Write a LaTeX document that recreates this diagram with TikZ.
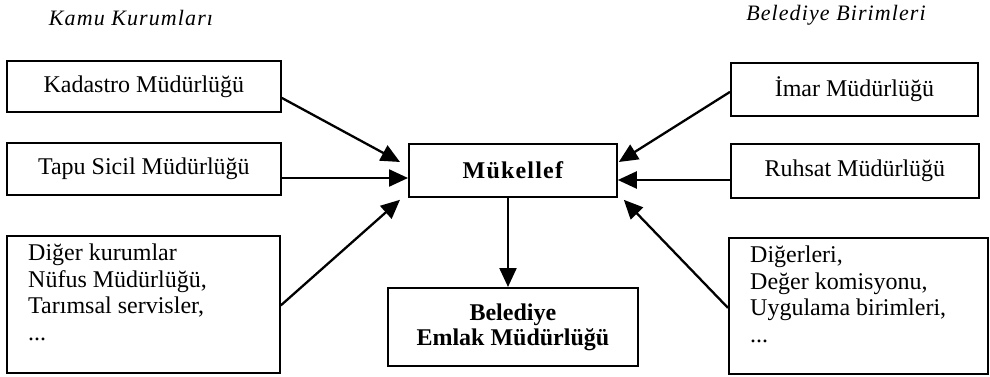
\documentclass[tikz,border=0pt]{standalone}
\usepackage{fontspec}
\setmainfont{Liberation Serif}
\usetikzlibrary{arrows.meta}
\begin{document}
\begin{tikzpicture}[x=1pt,y=-1pt,
  box/.style={draw,line width=1.8pt,inner sep=0pt,anchor=north west,
    font=\fontsize{24}{27}\selectfont},
  bbox/.style={box,font=\fontsize{24}{25}\selectfont\bfseries,align=center},
  txt/.style={inner sep=0pt,anchor=north west,align=left,
    font=\fontsize{24}{26.5}\selectfont},
  ttl/.style={inner sep=0pt,anchor=base,
    font=\fontsize{22}{24}\selectfont\itshape\addfontfeature{LetterSpace=5}},
  arr/.style={line width=2.3pt,-{Triangle[length=19pt,width=17pt]}}]
\useasboundingbox (0,0) rectangle (990,377);
% titles
\node[ttl] (t1) at (131,26) {Kamu Kurumları};
\node[ttl] (t2) at (836,21) {Belediye Birimleri};
% left boxes
\node[box,minimum width=274pt,minimum height=51pt] (kad) at (6,60) {Kadastro Müdürlüğü};
\node[box,minimum width=274pt,minimum height=52pt] (tapu) at (6,142) {Tapu Sicil Müdürlüğü};
\node[box,minimum width=273pt,minimum height=137pt] (diger) at (6,235) {};
\node[txt] (digert) at (28,244) {Diğer kurumlar\\Nüfus Müdürlüğü,\\Tarımsal servisler,\\...};
% right boxes
\node[box,minimum width=247pt,minimum height=53pt] (imar) at (730,62) {İmar Müdürlüğü};
\node[box,minimum width=248pt,minimum height=54pt] (ruhsat) at (730,143) {Ruhsat Müdürlüğü};
\node[box,minimum width=259pt,minimum height=136pt] (digerleri) at (728,237) {};
\node[txt] (digerlerit) at (750,246) {Diğerleri,\\Değer komisyonu,\\Uygulama birimleri,\\...};
% centre
\node[bbox,minimum width=208pt,minimum height=53pt] (muk) at (408,143) {\addfontfeature{LetterSpace=5}Mükellef};
\node[bbox,minimum width=250pt,minimum height=78pt] (emlak) at (387,287) {Belediye\\Emlak Müdürlüğü};
% arrows
\draw[arr] ([yshift=-11.5pt]kad.east) -- ([xshift=-8pt,yshift=-19pt]muk.north west);
\draw[arr] (tapu.east |- 0,178) -- (muk.west |- 0,178);
\draw[arr] ([yshift=-1pt]diger.east) -- ([xshift=-8pt,yshift=-2pt]muk.south west);
\draw[arr] ([yshift=-2.5pt]imar.west) -- ([xshift=1pt,yshift=-19pt]muk.north east);
\draw[arr] (ruhsat.west |- 0,180) -- (muk.east |- 0,180);
\draw[arr] ([yshift=-2pt]digerleri.west) -- ([xshift=6pt,yshift=-2pt]muk.south east);
\draw[arr] (muk.south -| 508,0) -- (emlak.north -| 508,0);
\end{tikzpicture}
\end{document}
